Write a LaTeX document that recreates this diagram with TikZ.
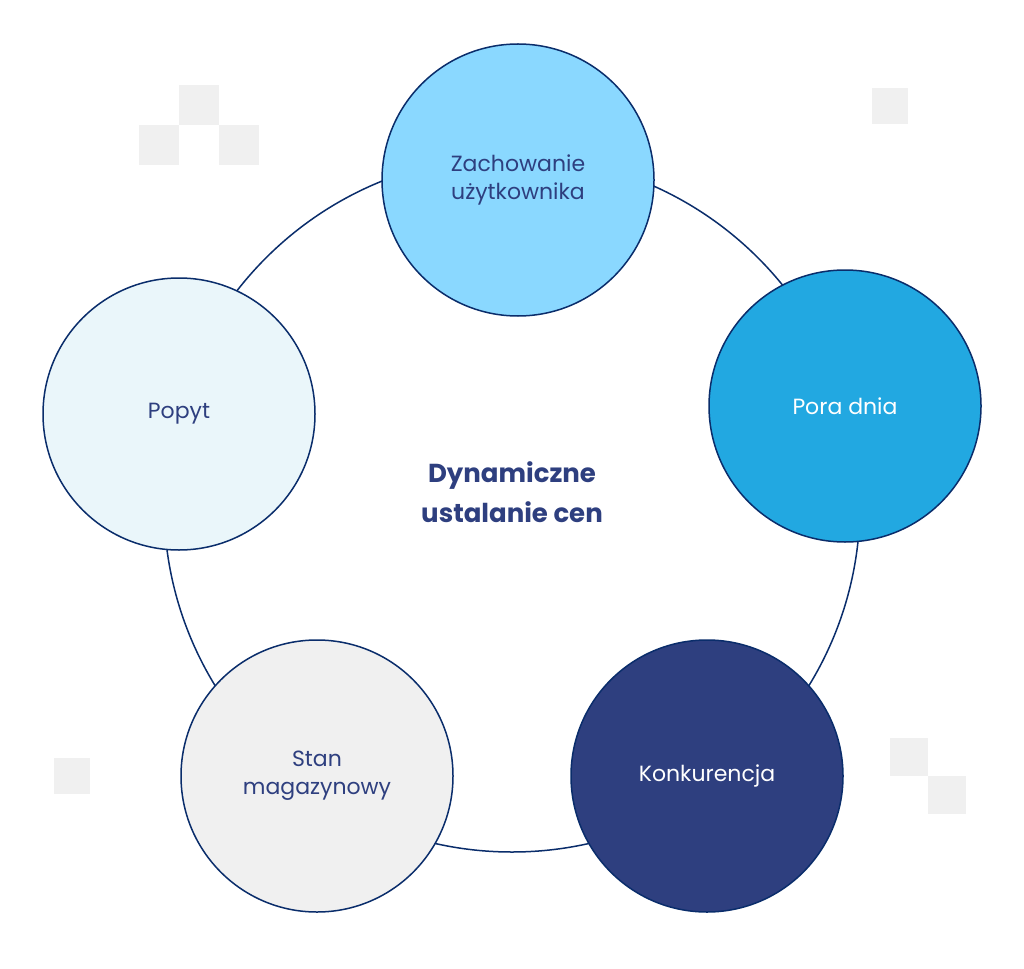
\documentclass[tikz,border=0pt]{standalone}
\usepackage{fontspec}
\setmainfont{Poppins}
\definecolor{bd}{HTML}{0A2D6B}
\definecolor{tx}{HTML}{2E3F7F}
\definecolor{sq}{HTML}{F0F0F0}
\definecolor{ca}{HTML}{8AD8FF}
\definecolor{cb}{HTML}{22A8E1}
\definecolor{ce}{HTML}{EAF6FA}
\begin{document}
\begin{tikzpicture}[x=1pt,y=-1pt,
  bub/.style={circle,draw=bd,line width=1.5pt,minimum size=272pt,inner sep=0pt,align=center,font=\fontsize{22}{28}\selectfont,text=tx}]
\useasboundingbox (0,0) rectangle (1024,968);
\fill[white] (0,0) rectangle (1024,968);
\foreach \x/\y/\s in {139/125/40,179/85/40,219/125/40,872/88/36,54/758/36,890/738/38,928/776/38}
  \fill[sq] (\x,\y) rectangle ++(\s,\s);
\node[circle,draw=bd,line width=1.5pt,minimum size=696pt] (ring) at (512,504) {};
\node[font=\bfseries\fontsize{26}{40}\selectfont,text=tx,align=center] (title) at (512,492) {Dynamiczne\\ustalanie cen};
\node[bub,fill=ca] (a) at (518,180) {Zachowanie\\użytkownika};
\node[bub,fill=cb,text=white] (b) at (845,406) {Pora dnia};
\node[bub,fill=tx,text=white] (c) at (707,776) {Konkurencja};
\node[bub,fill=sq] (d) at (317,776) {Stan\\magazynowy};
\node[bub,fill=ce] (e) at (179,414) {Popyt};
\end{tikzpicture}
\end{document}
